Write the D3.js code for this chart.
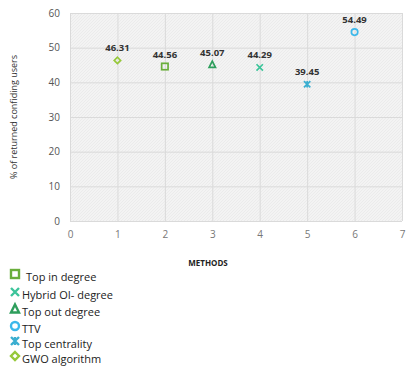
<!DOCTYPE html>
<html><head><meta charset="utf-8">
<script src="https://cdn.jsdelivr.net/npm/d3@7/dist/d3.min.js"></script>
<style>body{margin:0;background:#fff;font-family:"Open Sans",sans-serif}</style>
</head><body><svg id="c" width="406" height="371"></svg>
<script>
const methods = ["Top in degree","Hybrid OI- degree","Top out degree","TTV","Top centrality","GWO algorithm"];
const xValues = [2,4,3,6,5,1];
const yValues = [44.56,44.29,45.07,54.49,39.45,46.31];
const markers = ["square","x","triangle","circle","star","diamond"];
const colors = ["#6aae3c","#3cc49a","#2e9e5c","#3cb8ea","#3aaed0","#96c83a"];
const xTicks = [0,1,2,3,4,5,6,7];
const yTicks = [0,10,20,30,40,50,60];

const svg = d3.select("#c");
const L=70,R=402,T=13,B=221;
const x = d3.scaleLinear().domain([0,7]).range([L,R]);
const y = d3.scaleLinear().domain([0,60]).range([B,T]);

const defs = svg.append("defs");
const pat = defs.append("pattern").attr("id","hatch").attr("width",3).attr("height",3).attr("patternUnits","userSpaceOnUse");
pat.append("rect").attr("width",3).attr("height",3).attr("fill","#f3f3f3");
pat.append("path").attr("d","M0,3 L3,0").attr("stroke","#e6e6e6").attr("stroke-width",0.6);
svg.append("rect").attr("x",L).attr("y",T).attr("width",R-L).attr("height",B-T).attr("fill","url(#hatch)");

const gx = svg.append("g").attr("transform",`translate(0,${B})`)
  .call(d3.axisBottom(x).tickValues(xTicks).tickFormat(d3.format("d")).tickSize(-(B-T)).tickPadding(10));
const gy = svg.append("g").attr("transform",`translate(${L},0)`)
  .call(d3.axisLeft(y).tickValues(yTicks).tickFormat(d3.format("d")).tickSize(-(R-L)).tickPadding(10));
[gx,gy].forEach(g=>{
  g.select(".domain").remove();
  g.selectAll(".tick line").attr("stroke","#dadada").attr("stroke-width",1);
  g.selectAll(".tick text").attr("fill","#777").style("font-size","10px").style("font-family","'Open Sans',sans-serif");
});
gy.selectAll(".tick text").attr("fill","#555");

svg.append("text").attr("x",208).attr("y",266).attr("text-anchor","middle")
  .style("font-size","8px").style("font-weight","bold").attr("fill","#222").text("METHODS");
svg.append("text").attr("transform","translate(17,117) rotate(-90)").attr("text-anchor","middle")
  .style("font-size","9px").attr("fill","#333").text("% of returned confiding  users");

function drawMarker(g,type,color,s,w){
  if(type==="square") g.append("rect").attr("x",-s).attr("y",-s).attr("width",2*s).attr("height",2*s).attr("fill","none").attr("stroke",color).attr("stroke-width",w);
  else if(type==="x") g.append("path").attr("d",`M${-s},${-s}L${s},${s}M${-s},${s}L${s},${-s}`).attr("stroke",color).attr("stroke-width",w);
  else if(type==="triangle") g.append("path").attr("d",`M0,${-s-0.5}L${s},${s-0.5}L${-s},${s-0.5}Z`).attr("fill","none").attr("stroke",color).attr("stroke-width",w);
  else if(type==="circle") g.append("circle").attr("r",s).attr("fill","none").attr("stroke",color).attr("stroke-width",w);
  else if(type==="star") g.append("path").attr("d",`M${-s},${-s}L${s},${s}M${-s},${s}L${s},${-s}M0,${-s}L0,${s}`).attr("stroke",color).attr("stroke-width",w);
  else if(type==="diamond") g.append("path").attr("d",`M0,${-s}L${s},0L0,${s}L${-s},0Z`).attr("fill","none").attr("stroke",color).attr("stroke-width",w);
}

methods.forEach((m,i)=>{
  const g = svg.append("g").attr("transform",`translate(${x(xValues[i])},${y(yValues[i])})`);
  drawMarker(g,markers[i],colors[i],3.2,1.7);
  svg.append("text").attr("x",x(xValues[i])).attr("y",y(yValues[i])-9).attr("text-anchor","middle")
    .style("font-size","9.5px").style("font-weight","bold").attr("fill","#333").text(yValues[i].toFixed(2));
});

const legY = [277,295,312,329,344,359];
methods.forEach((m,i)=>{
  const g = svg.append("g").attr("transform",`translate(15,${legY[i]-3})`);
  drawMarker(g,markers[i],colors[i],4,2.4);
  svg.append("text").attr("x",i===0?26:22).attr("y",legY[i]+3.5)
    .style("font-size","11px").style("font-family","'Open Sans',sans-serif").attr("fill","#222").text(m);
});
</script></body></html>
